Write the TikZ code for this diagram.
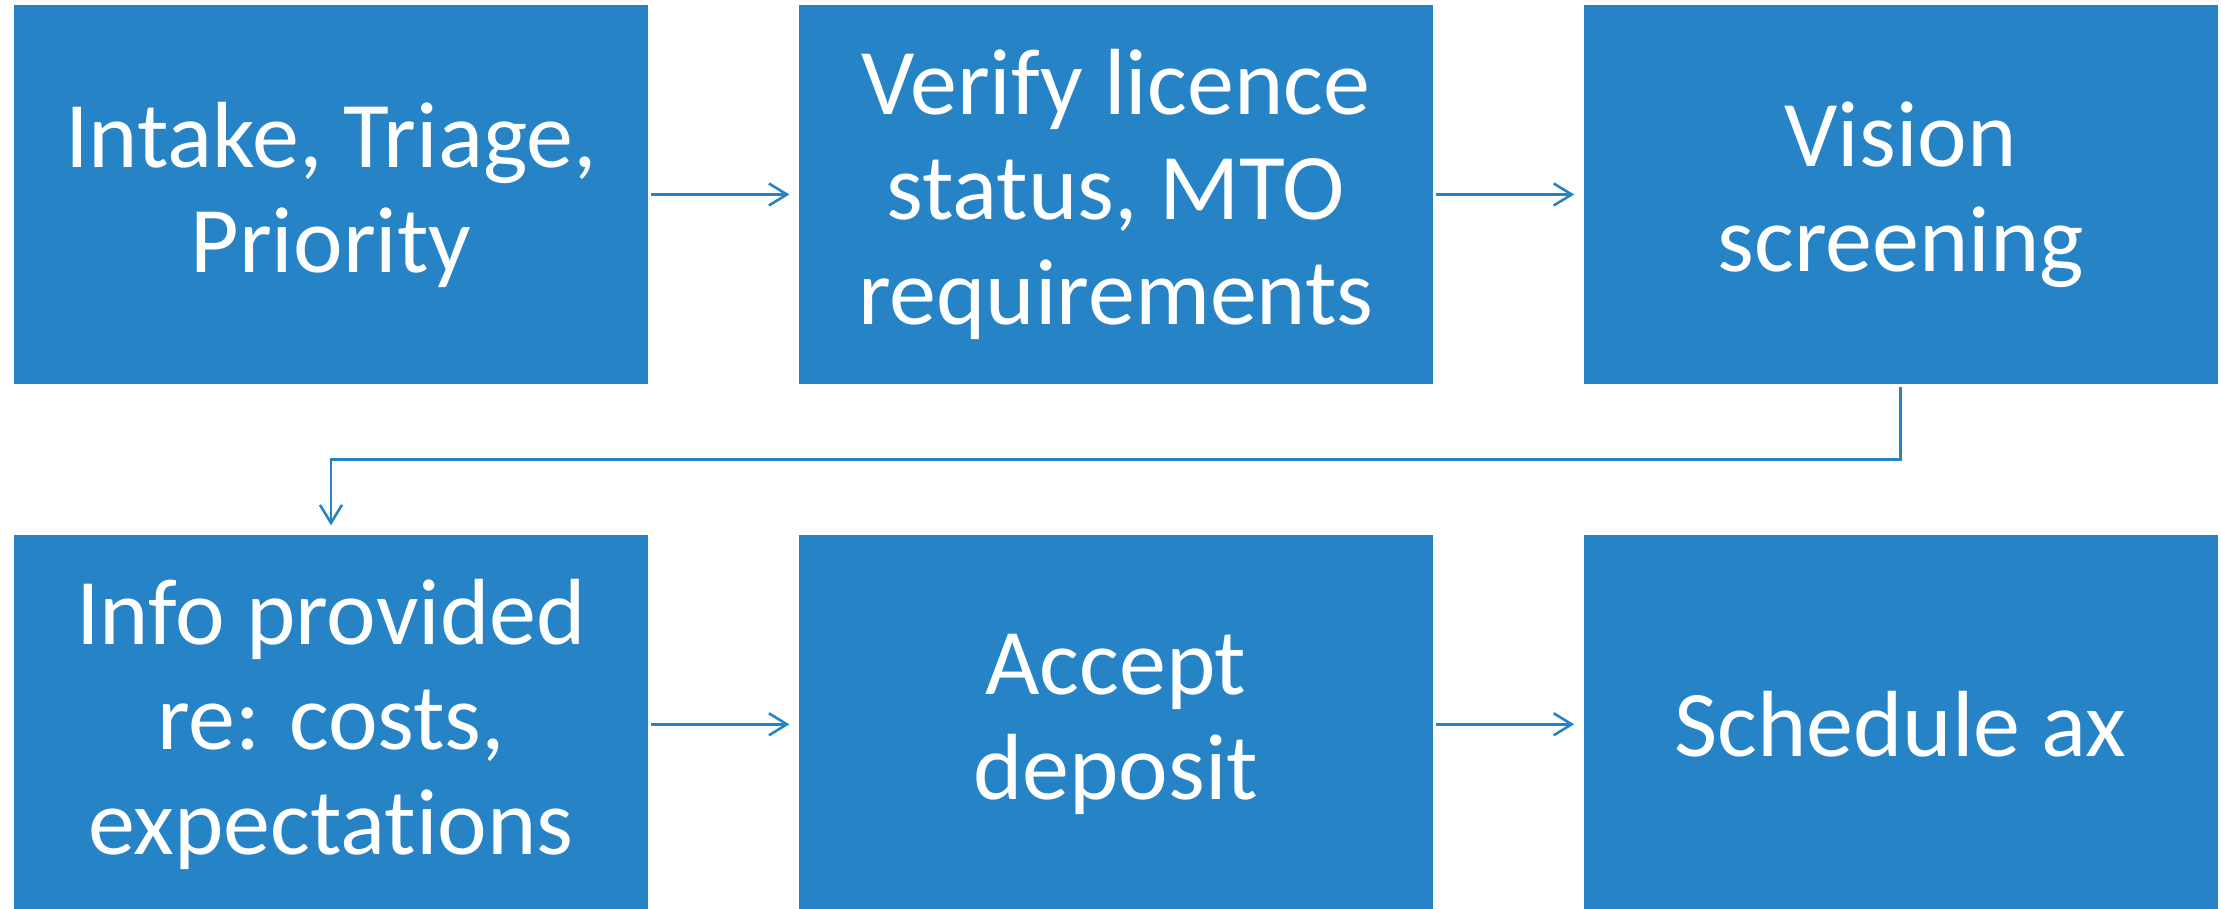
\documentclass[tikz,border=0pt]{standalone}
\usepackage{fontspec}
\setmainfont{Carlito}[Ligatures=NoCommon]
\usepackage{xcolor}
\usetikzlibrary{positioning,arrows.meta}
\definecolor{stageblue}{HTML}{2683C6}

\begin{document}
\begin{tikzpicture}[node distance=75pt and 75pt,
    stage/.style={fill=stageblue,text=white,minimum width=317pt,minimum height=189.5pt,inner sep=0pt,align=center,font=\fontsize{47pt}{52.5pt}\selectfont},
    flow/.style={draw=stageblue,line width=1.3pt,-{Straight Barb[length=9pt,width=11pt]},shorten <=1.5pt,shorten >=4.5pt}]
       \useasboundingbox (0,0) rectangle (1110.5pt,454.5pt);
       \node (s_0) [stage] at (165.5pt,357.25pt) {Intake, Triage,\\Priority};
       \node (s_1) [stage, right=of s_0] {Verify licence\\status, MTO\\requirements};
       \node (s_2) [stage, right=of s_1] {Vision\\screening};
       \node (s_3) [stage, below=of s_0] {Info provided\\re: costs,\\expectations};
       \node (s_4) [stage, right=of s_3] {Accept\\deposit};
       \node (s_5) [stage, right=of s_4] {Schedule ax};
       \draw[flow] (s_0) -- (s_1);
       \draw[flow] (s_1) -- (s_2);
       \draw[flow] (s_2.south) -- ++(0,-37.5pt) -| (s_3.north);
       \draw[flow] (s_3) -- (s_4);
       \draw[flow] (s_4) -- (s_5);
    \end{tikzpicture}
\end{document}
